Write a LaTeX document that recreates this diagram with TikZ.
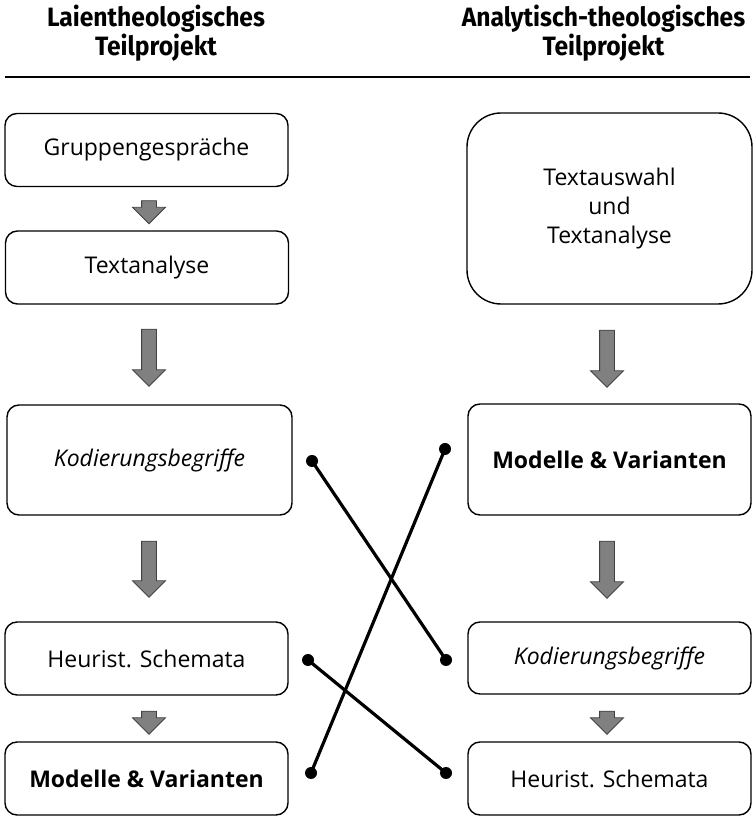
\documentclass[tikz,border=0pt]{standalone}
\usepackage{fontspec}
\setmainfont{Open Sans}
\newfontfamily\headfont[FakeStretch=0.93]{Fira Sans}
\usepackage{tikz}
\usetikzlibrary{shapes,arrows}
\newcommand{\tkod}[1]{\textit{#1}}
\newcommand{\tmod}[1]{\textbf{#1}}

\begin{document}
\begin{tikzpicture}[>=latex]
      \tikzstyle{every node}=[font=\fontsize{23bp}{29bp}\selectfont]
      \tikzstyle{box}=[draw,line width=1.4bp,rounded corners=12bp,minimum width=283bp,minimum height=73bp,align=center]
      \tikzstyle{bigbox}=[box,rounded corners=34bp]
      \tikzstyle{blockarrow}=[single arrow,draw=black!75,fill=black!50,line width=.8bp,rotate=-90,inner sep=7bp,single arrow head extend=9bp,single arrow head indent=0bp]
      \tikzstyle{dot}=[circle,fill=black,inner sep=0pt,minimum size=12bp]
      \tikzstyle{head}=[font=\headfont\bfseries\fontsize{26.5bp}{29bp}\selectfont,align=center]
      \useasboundingbox (0bp,0bp) rectangle (754bp,817bp);

%%
\node (h_l) at (156bp,784bp) [head] {Laientheologisches\\Teilprojekt};
  \node (h_r) at (603.5bp,784bp) [head] {Analytisch-theologisches\\Teilprojekt};
  \draw [line width=1.6bp] (5bp,740bp) -- (750bp,740bp);
%
\node (lt_1) at (146.5bp,667bp) [box] {Gruppengespräche};
  \node (lt_2) at (147bp,549.5bp) [box] {Textanalyse};
  \node (lt_3) at (149.5bp,357bp) [box,minimum width=285bp,minimum height=110bp] {\tkod{Kodierungsbegriffe}};
  \node (lt_4) at (146.5bp,158.5bp) [box] {Heurist. Schemata};
  \node (lt_5) at (146.5bp,38.5bp) [box] {\tmod{Modelle \& Varianten}};
  \node (rt_1) at (609.5bp,608.5bp) [bigbox,minimum width=285bp,minimum height=191bp] {Textauswahl\\und\\Textanalyse};
  \node (rt_2) at (609.5bp,357.5bp) [box,minimum height=111bp] {\tmod{Modelle \& Varianten}};
  \node (rt_3) at (609.5bp,159bp) [box,minimum height=72bp] {\tkod{Kodierungsbegriffe}};
  \node (rt_4) at (609.5bp,38.5bp) [box] {Heurist. Schemata};
%
\node (a_l1) at (149bp,608.5bp) [blockarrow,minimum height=23bp] {};
  \node (a_l2) at (149bp,463bp) [blockarrow,minimum height=57bp] {};
  \node (a_l3) at (149bp,251.5bp) [blockarrow,minimum height=56bp] {};
  \node (a_l4) at (149bp,98bp) [blockarrow,minimum height=23bp] {};
  \node (a_r1) at (607bp,462bp) [blockarrow,minimum height=57bp] {};
  \node (a_r2) at (607bp,251bp) [blockarrow,minimum height=57bp] {};
  \node (a_r3) at (607bp,98bp) [blockarrow,minimum height=23bp] {};
%
\node (d_1) at (312bp,356bp) [dot] {};
  \node (d_2) at (446bp,157bp) [dot] {};
  \node (d_3) at (445bp,368bp) [dot] {};
  \node (d_4) at (311bp,44bp) [dot] {};
  \node (d_5) at (308bp,157bp) [dot] {};
  \node (d_6) at (446bp,44bp) [dot] {};
  \draw [line width=3.2bp] (d_1.center) -- (d_2.center);
  \draw [line width=3.2bp] (d_3.center) -- (d_4.center);
  \draw [line width=3.2bp] (d_5.center) -- (d_6.center);
%

    \end{tikzpicture}
\end{document}
